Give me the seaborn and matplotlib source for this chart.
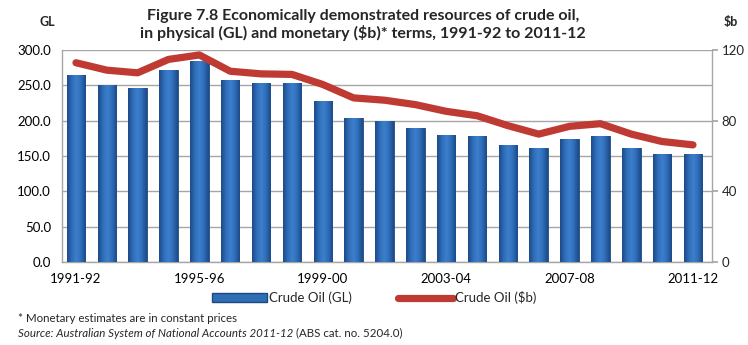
import matplotlib
matplotlib.use("Agg")
import matplotlib.pyplot as plt
import numpy as np
import pandas as pd
import seaborn as sns
from matplotlib.colors import LinearSegmentedColormap
from matplotlib.lines import Line2D
from matplotlib.patches import Patch

sns.set_theme(style="white")
plt.rcParams["font.family"] = ["Lato", "DejaVu Sans"]

years = [
    "1991-92", "1992-93", "1993-94", "1994-95", "1995-96", "1996-97", "1997-98",
    "1998-99", "1999-00", "2000-01", "2001-02", "2002-03", "2003-04", "2004-05",
    "2005-06", "2006-07", "2007-08", "2008-09", "2009-10", "2010-11", "2011-12",
]
oil_gl = [264, 251, 246, 272, 284, 257, 253, 254, 228, 204, 200,
          190, 180, 179, 166, 161, 174, 178, 161, 153, 153]
oil_bn = [112.8, 108.6, 107.1, 114.7, 117.2, 108.0, 106.5, 106.2, 100.5, 92.9, 91.6,
          89.1, 85.3, 82.8, 77.2, 72.4, 76.8, 78.3, 72.4, 68.2, 66.3]

df = pd.DataFrame({"year": years, "gl": oil_gl, "bn": oil_bn})
df["pos"] = range(len(df))

bar_color = "#2F6DB5"
line_color = "#BE3A32"
grid_color = "#A6A6A6"
bar_cmap = LinearSegmentedColormap.from_list(
    "cyl", ["#1B4A88", "#2F6DB8", "#3D80CC", "#2F6DB8", "#1B4A88"])

fig = plt.figure(figsize=(7.48, 3.45), dpi=100)
ax = fig.add_axes([0.083, 0.2406, 0.869, 0.6144])

sns.barplot(data=df, x="year", y="gl", color=bar_color, width=0.6,
            edgecolor="#1D4A7E", linewidth=0.6, saturation=1, ax=ax, zorder=3)

# cylinder-like shading on each bar
grad = np.linspace(0, 1, 64).reshape(1, -1)
for bar in ax.patches:
    x0, w, h = bar.get_x(), bar.get_width(), bar.get_height()
    img = ax.imshow(grad, cmap=bar_cmap, aspect="auto", zorder=3.5,
                    extent=(x0, x0 + w, 0, h), interpolation="bicubic")
    img.set_clip_path(bar)

ax.set_ylim(0, 300)
ax.set_xlim(-0.45, 20.62)
ax.set_yticks(range(0, 301, 50))
ax.set_yticklabels([f"{v:.1f}" for v in range(0, 301, 50)])
ax.yaxis.grid(True, color=grid_color, linewidth=1.0, zorder=0)
ax.set_axisbelow(True)
ax.set_xticks(df["pos"][::4])
ax.set_xticklabels(df["year"][::4])
ax.set_xlabel("")
ax.set_ylabel("")
ax.tick_params(axis="both", labelsize=9.5, colors="black", length=0, pad=8)
for side in ["top", "right"]:
    ax.spines[side].set_visible(False)
for side in ["left", "bottom"]:
    ax.spines[side].set_color(grid_color)
    ax.spines[side].set_linewidth(1.0)

ax2 = ax.twinx()
sns.lineplot(data=df, x="pos", y="bn", color=line_color, linewidth=5.2,
             ax=ax2, zorder=4, solid_capstyle="round")
ax2.set_ylim(0, 120)
ax2.set_yticks([0, 40, 80, 120])
ax2.set_ylabel("")
ax2.set_xlabel("")
ax2.tick_params(axis="y", labelsize=9.5, direction="out", length=4,
                color=grid_color, pad=3)
for side in ["top", "left", "bottom"]:
    ax2.spines[side].set_visible(False)
ax2.spines["right"].set_color(grid_color)
ax2.spines["right"].set_linewidth(1.0)
ax2.grid(False)

fig.text(0.485, 0.975,
         "Figure 7.8 Economically demonstrated resources of crude oil,\n"
         "in physical (GL) and monetary (\\$b)* terms, 1991-92 to 2011-12",
         ha="center", va="top", fontsize=11.5, fontweight="bold", linespacing=1.2)
fig.text(0.053, 0.955, "GL", fontsize=9, fontweight="bold", ha="left", va="top")
fig.text(0.968, 0.955, "\\$b", fontsize=9, fontweight="bold", ha="left", va="top")

handles = [
    Patch(facecolor=bar_color, edgecolor="#1D4A7E"),
    Line2D([0], [0], color=line_color, linewidth=5.2),
]
fig.legend(handles, ["Crude Oil (GL)", "Crude Oil (\\$b)"], loc="center",
           bbox_to_anchor=(0.5, 0.137), ncol=2, frameon=False, fontsize=9.5,
           handlelength=4.2, handletextpad=0.1, columnspacing=3.5)

fig.text(0.024, 0.078, "* Monetary estimates are in constant prices",
         fontsize=8.3, va="center")
src = fig.text(0.024, 0.034, "Source: Australian System of National Accounts 2011-12",
               fontsize=8.3, style="italic", va="center")
fig.canvas.draw()
ax.annotate(" (ABS cat. no. 5204.0)", xy=(1, 0.5), xycoords=src,
            fontsize=8.3, va="center", ha="left")

fig.savefig("out.png", dpi=100)
